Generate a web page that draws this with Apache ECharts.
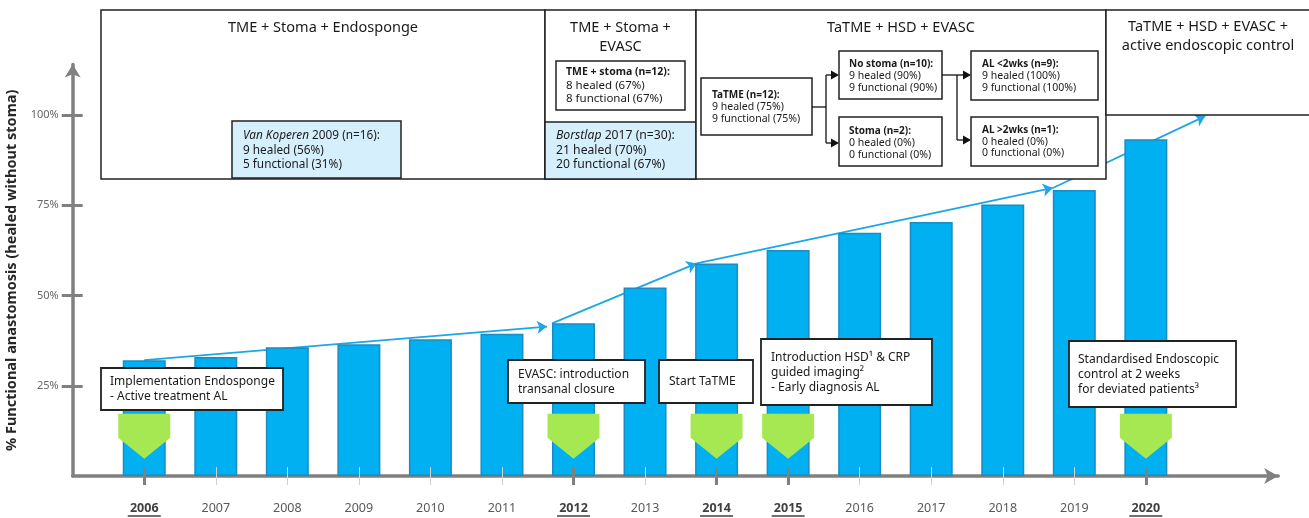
<!DOCTYPE html>
<html>
<head>
<meta charset="utf-8">
<title>Functional anastomosis</title>
<script src="https://cdn.jsdelivr.net/npm/echarts@6/dist/echarts.min.js"></script>
<style>
    html, body {margin: 0; padding: 0; background: #fff;}
    #main {width: 1309px; height: 518px;}
</style>
</head>
<body>
<div id="main"></div>
<script>
    // data
    var years = [2006, 2007, 2008, 2009, 2010, 2011, 2012, 2013, 2014, 2015, 2016, 2017, 2018, 2019, 2020];
    var functional = [32.1, 33.0, 35.7, 36.5, 37.9, 39.4, 42.3, 52.2, 58.9, 62.6, 67.4, 70.4, 75.2, 79.2, 93.3];
    var milestoneYears = [2006, 2012, 2014, 2015, 2020];
    var yTicks = [25, 50, 75, 100];
    // trend arrows: [from, to] in [year, %]
    var trendArrows = [
        [[2006.0, 32.1], [2011.63, 41.4]],
        [[2011.70, 42.3], [2013.72, 58.9]],
        [[2013.72, 58.9], [2018.70, 79.8]],
        [[2018.70, 79.8], [2020.83, 99.7]]
    ];
    var otherYears = years.filter(function (y) {
        return milestoneYears.indexOf(y) < 0;
    });

    var FONT = '"Noto Sans", "DejaVu Sans", sans-serif';
    var AXIS = '#808080';

    // annotation boxes (graphic)
    var g = [];
    function rect(x, y, w, h, fill, lw) {
        g.push({type: 'rect', z: 100, shape: {x: x, y: y, width: w, height: h},
            style: {fill: fill || '#fff', stroke: '#222', lineWidth: lw || 1.5}});
    }
    function text(x, y, str, size, align, lh, rich) {
        g.push({type: 'text', z: 101, x: x, y: y, style: {
            text: str, fontSize: size, fontFamily: FONT, fill: '#1a1a1a',
            align: align || 'left', verticalAlign: 'top', lineHeight: lh || size * 1.25, rich: rich || {}
        }});
    }
    function hline(x1, x2, y) {
        g.push({type: 'line', z: 101, shape: {x1: x1, y1: y, x2: x2, y2: y}, style: {stroke: '#111', lineWidth: 1.3}});
    }
    function vline(x, y1, y2) {
        g.push({type: 'line', z: 101, shape: {x1: x, y1: y1, x2: x, y2: y2}, style: {stroke: '#111', lineWidth: 1.3}});
    }
    function arrowRight(x1, x2, y) {
        hline(x1, x2 - 6, y);
        g.push({type: 'polygon', z: 101, shape: {points: [[x2 - 8, y - 4.5], [x2, y], [x2 - 8, y + 4.5]]}, style: {fill: '#111'}});
    }
    var flowRich = {b: {fontWeight: 'bold', fontSize: 10, fontFamily: FONT}};
    var stomaRich = {b: {fontWeight: 'bold', fontSize: 10.5, fontFamily: FONT}};
    var italRich = {i: {fontStyle: 'italic', fontSize: 12, fontFamily: FONT}};

    // panel 1
    rect(101, 10, 444, 169);
    text(323, 18.5, 'TME + Stoma + Endosponge', 14.5, 'center', 18);
    rect(232, 121, 169, 57, '#d5f0fc');
    text(243, 128.5, '{i|Van Koperen} 2009 (n=16):\n9 healed (56%)\n5 functional (31%)', 11.8, 'left', 14.5,
        {i: {fontStyle: 'italic', fontSize: 11.8, fontFamily: FONT}});
    // panel 2
    rect(545, 10, 151, 169);
    text(620.5, 19, 'TME + Stoma +\nEVASC', 14.5, 'center', 18.4);
    rect(556, 61, 129, 49);
    text(566, 65.5, '{b|TME + stoma (n=12):}\n8 healed (67%)\n8 functional (67%)', 11.5, 'left', 13.4, stomaRich);
    rect(545, 122, 151, 57, '#d5f0fc');
    text(556, 128.5, '{i|Borstlap} 2017 (n=30):\n21 healed (70%)\n20 functional (67%)', 12.2, 'left', 14.5,
        {i: {fontStyle: 'italic', fontSize: 12.2, fontFamily: FONT}});
    // panel 3
    rect(696, 10, 410, 169);
    text(901, 18.5, 'TaTME + HSD + EVASC', 14.5, 'center', 18);
    rect(701, 78, 111, 57);
    text(712, 89.7, '{b|TaTME (n=12):}\n9 healed (75%)\n9 functional (75%)', 10.5, 'left', 11.8, flowRich);
    rect(839, 51, 103, 48);
    text(849, 58, '{b|No stoma (n=10):}\n9 healed (90%)\n9 functional (90%)', 10.5, 'left', 12, flowRich);
    rect(839, 117, 103, 49);
    text(849, 125.7, '{b|Stoma (n=2):}\n0 healed (0%)\n0 functional (0%)', 10.5, 'left', 11.7, flowRich);
    rect(971, 51, 127, 49);
    text(982, 58, '{b|AL <2wks (n=9):}\n9 healed (100%)\n9 functional (100%)', 10.5, 'left', 12, flowRich);
    rect(971, 117, 127, 49);
    text(982, 124.7, '{b|AL >2wks (n=1):}\n0 healed (0%)\n0 functional (0%)', 10.5, 'left', 11.4, flowRich);
    hline(812, 826, 107);
    vline(826, 75, 143);
    arrowRight(826, 839, 75);
    arrowRight(826, 839, 143);
    hline(942, 957, 75);
    vline(957, 75, 140);
    arrowRight(957, 971, 75);
    arrowRight(957, 971, 140);
    // panel 4
    rect(1106, 10, 210, 105);
    text(1208, 18.1, 'TaTME + HSD + EVASC +\nactive endoscopic control', 14.5, 'center', 18.4);

    // event boxes
    rect(101, 368, 182, 42, '#fff', 1.8);
    text(110, 374.2, 'Implementation Endosponge\n- Active treatment AL', 12, 'left', 15);
    rect(508, 360, 137, 43, '#fff', 1.8);
    text(518, 367, 'EVASC: introduction\ntransanal closure', 12, 'left', 14.8);
    rect(659, 360, 94, 43, '#fff', 1.8);
    text(669, 374.2, 'Start TaTME', 12, 'left', 15);
    rect(761, 339, 171, 66, '#fff', 1.8);
    text(771, 350.2, 'Introduction HSD¹ & CRP\nguided imaging²\n- Early diagnosis AL', 12, 'left', 15);
    rect(1069, 341, 167, 66, '#fff', 1.8);
    text(1078, 351.8, 'Standardised Endoscopic\ncontrol at 2 weeks\nfor deviated patients³', 12, 'left', 15);

    function tickAxis(values, inside, len, color, width) {
        return {
            type: 'value', min: 2005, max: 2021.85, position: 'bottom', z: 5,
            axisLine: {show: false, onZero: false},
            axisTick: {show: true, customValues: values, inside: inside, length: len, lineStyle: {color: color, width: width}},
            axisLabel: {show: false}, splitLine: {show: false}
        };
    }

    var chart = echarts.init(document.getElementById('main'));
    chart.setOption({
        animation: false,
        textStyle: {fontFamily: FONT},
        grid: {left: 72.7, right: 30.8, top: 64.5, bottom: 42, containLabel: false, outerBoundsMode: 'none'},
        xAxis: [
            {
                type: 'value', min: 2005, max: 2021.85, position: 'bottom',
                axisLine: {onZero: false, symbol: ['none', 'arrow'], symbolSize: [12, 14], lineStyle: {color: AXIS, width: 3.5}},
                axisTick: {show: true, customValues: otherYears, length: 9, lineStyle: {color: '#d0d0d0', width: 1}},
                axisLabel: {
                    customValues: years, margin: 25, fontSize: 12.5, color: '#595959',
                    formatter: function (v) {
                        return milestoneYears.indexOf(v) >= 0 ? '{b|' + v + '}\n{u| }' : '{n|' + v + '}';
                    },
                    rich: {
                        n: {fontSize: 12.5, lineHeight: 14, color: '#595959', fontFamily: FONT},
                        b: {fontSize: 12.5, lineHeight: 14, fontWeight: 'bold', color: '#404040', fontFamily: FONT},
                        u: {width: 33, height: 1.6, lineHeight: 2, fontSize: 1, backgroundColor: '#404040', color: 'transparent'}
                    }
                },
                splitLine: {show: false}
            },
            tickAxis(otherYears, true, 9, '#d0d0d0', 1),
            tickAxis(milestoneYears, false, 9, AXIS, 3),
            tickAxis(milestoneYears, true, 9, AXIS, 3)
        ],
        yAxis: [
            {
                type: 'value', min: 0, max: 114, position: 'left',
                name: '% Functional anastomosis (healed without stoma)',
                nameLocation: 'middle', nameGap: 47,
                nameTextStyle: {fontSize: 14.5, fontWeight: 'bold', color: '#262626', fontFamily: FONT},
                axisLine: {onZero: false, symbol: ['none', 'arrow'], symbolSize: [12, 13], lineStyle: {color: AXIS, width: 3.5}},
                axisTick: {show: true, customValues: yTicks, length: 11, lineStyle: {color: AXIS, width: 3}},
                axisLabel: {customValues: yTicks, formatter: '{value}%', margin: 14, fontSize: 11, color: '#666'},
                splitLine: {show: false}
            },
            {
                type: 'value', min: 0, max: 114, position: 'left', z: 5,
                axisLine: {show: false, onZero: false},
                axisTick: {show: true, customValues: yTicks, inside: true, length: 10, lineStyle: {color: AXIS, width: 3}},
                axisLabel: {show: false}, splitLine: {show: false}
            }
        ],
        series: [
            {
                type: 'bar', xAxisIndex: 0, yAxisIndex: 0, barWidth: 43,
                data: years.map(function (y, i) { return [y, functional[i]]; }),
                itemStyle: {color: '#00b0f0', borderColor: '#1b8cc2', borderWidth: 1.5}
            },
            {
                type: 'lines', coordinateSystem: 'cartesian2d', xAxisIndex: 0, yAxisIndex: 0,
                symbol: ['none', 'arrow'], symbolSize: 10,
                lineStyle: {color: '#1ea6e6', width: 1.8, opacity: 1},
                data: trendArrows.map(function (c) { return {coords: c}; })
            },
            {
                type: 'scatter', xAxisIndex: 0, yAxisIndex: 0,
                symbol: 'path://M0,0L52,0L52,24L26,45L0,24Z', symbolSize: [52, 45],
                itemStyle: {color: '#a6e852', opacity: 1},
                data: milestoneYears.map(function (y) { return [y, 11]; })
            }
        ],
        graphic: g
    });
</script>
</body>
</html>
